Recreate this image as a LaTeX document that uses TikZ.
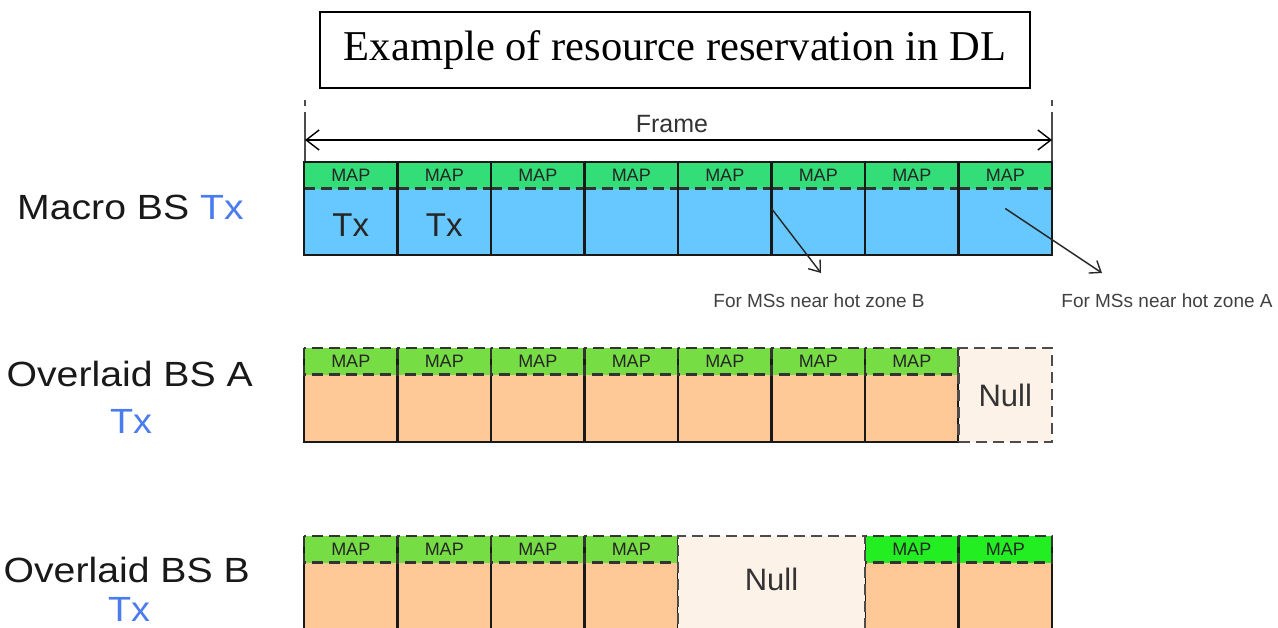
\documentclass[tikz,border=0pt]{standalone}
\usepackage{fontspec}
\setmainfont{Liberation Serif}
\newfontfamily\arialf{Liberation Sans}
\usetikzlibrary{arrows.meta}
\definecolor{macroblue}{HTML}{66C8FF}
\definecolor{mapgreen}{HTML}{33DD77}
\definecolor{mapgreenA}{HTML}{77DD44}
\definecolor{mapbright}{HTML}{22EE22}
\definecolor{peach}{HTML}{FFC896}
\definecolor{nullfill}{HTML}{FDF2E8}
\definecolor{txblue}{HTML}{4A7CF0}
\definecolor{darktext}{HTML}{333333}
\begin{document}
\begin{tikzpicture}[x=1pt,y=-1pt,
  cellfill/.style={minimum width=93.5pt, minimum height=#1, anchor=north west, inner sep=0pt, outer sep=0pt},
  band/.style={minimum width=93.5pt, minimum height=26.5pt, anchor=north west, inner sep=0pt, outer sep=0pt,
     font=\arialf\fontsize{18}{20}\selectfont, text=black!85},
  solidline/.style={draw=black!90, line width=2.1pt},
  dashline/.style={draw=black!80, line width=2.1pt, dash pattern=on 11pt off 6pt},
  nullbox/.style={draw=black!70, line width=2.1pt, dash pattern=on 11pt off 6pt, fill=nullfill, anchor=north west,
     inner sep=0pt, outer sep=0pt, font=\arialf\fontsize{31}{34}\selectfont, text=darktext},
  rowlabel/.style={font=\arialf\fontsize{35}{40}\selectfont, text=black!90, inner sep=0pt},
  celltext/.style={font=\arialf\fontsize{33}{36}\selectfont, text=black!85, inner sep=0pt},
  note/.style={font=\arialf\fontsize{19}{22}\selectfont, text=black!75, inner sep=0pt},
  annarrow/.style={draw=black!85, line width=1.4pt, -{Straight Barb[length=10pt,width=15pt]}},
]
\useasboundingbox (0,0) rectangle (1278,627);
\clip (0,0) rectangle (1278,627);

% Title
\node[draw=black, line width=1.8pt, minimum width=710pt, minimum height=76pt, inner sep=0pt,
      font=\fontsize{42.5}{46}\selectfont] (title) at (675,50) {\raisebox{-5pt}{Example of resource reservation in DL}};

% Frame arrow
\coordinate (fl) at (305,140);
\coordinate (fr) at (1052,140);
\coordinate (fltop) at (305,100);
\coordinate (flbot) at (305,162);
\coordinate (frtop) at (1052,100);
\coordinate (frbot) at (1052,162);
\draw[draw=black!70, line width=1.3pt, dash pattern=on 6pt off 6pt on 80pt] (fltop) -- (flbot);
\draw[draw=black!70, line width=1.3pt, dash pattern=on 6pt off 6pt on 80pt] (frtop) -- (frbot);
\draw[line width=1.4pt, {Straight Barb[length=13pt,width=20pt]}-{Straight Barb[length=13pt,width=20pt]}] (fl) -- (fr);
\node[font=\arialf\fontsize{25}{28}\selectfont, text=darktext, inner sep=0pt] (frame) at (672,124) {Frame};

% Macro BS row
\foreach \i in {0,...,7}{
  \node[cellfill=93pt, fill=macroblue] (m\i) at ({304+93.5*\i},162) {};
  \node[band, fill=mapgreen] (mb\i) at ({304+93.5*\i},162) {MAP};
  \draw[dashline] (mb\i.south west) -- (mb\i.south east);
  \draw[solidline] (m\i.north west) rectangle (m\i.south east);
}
\node[celltext] (tx0) at (350.75,225) {Tx};
\node[celltext] (tx1) at (444.25,225) {Tx};

% annotations
\node[note] (zoneB) at (819,301) {For MSs near hot zone B};
\node[note] (zoneA) at (1167,301) {For MSs near hot zone A};
\coordinate (tipB) at (821,273);
\coordinate (tipA) at (1102,273);
\draw[annarrow] (m5.west) -- (tipB);
\draw[annarrow] (m7.center) -- (tipA);

% Overlaid BS A row
\foreach \i in {0,...,6}{
  \node[cellfill=94pt, fill=peach] (a\i) at ({304+93.5*\i},348) {};
  \node[band, fill=mapgreenA] (ab\i) at ({304+93.5*\i},348) {MAP};
  \draw[solidline] (a\i.north west) -- (a\i.south west) -- (a\i.south east) -- (a\i.north east);
  \draw[dashline] (ab\i.north west) rectangle (ab\i.south east);
}
\node[nullbox, minimum width=93.5pt, minimum height=94pt] (anull) at (958.5,348) {Null};

% Overlaid BS B row
\foreach \i in {0,1,2,3}{
  \node[cellfill=110pt, fill=peach] (b\i) at ({304+93.5*\i},536) {};
  \node[band, fill=mapgreenA] (bb\i) at ({304+93.5*\i},536) {MAP};
  \draw[solidline] (b\i.north west) -- (b\i.south west) -- (b\i.south east) -- (b\i.north east);
  \draw[dashline] (bb\i.north west) rectangle (bb\i.south east);
}
\foreach \i in {6,7}{
  \node[cellfill=110pt, fill=peach] (b\i) at ({304+93.5*\i},536) {};
  \node[band, fill=mapbright] (bb\i) at ({304+93.5*\i},536) {MAP};
  \draw[solidline] (b\i.north west) -- (b\i.south west) -- (b\i.south east) -- (b\i.north east);
  \draw[dashline] (bb\i.north west) rectangle (bb\i.south east);
}
\node[nullbox, minimum width=187pt, minimum height=110pt] (bnull) at (678,536) {};
\node[font=\arialf\fontsize{31}{34}\selectfont, text=darktext, inner sep=0pt] (bnulltext) at (771.5,579) {Null};

% Row labels
\node[rowlabel, anchor=west] (lmacro) at (17,207.5) {\scalebox{1.12}[1]{Macro BS \textcolor{txblue}{Tx}}};
\node[rowlabel, anchor=east] (lA) at (253,374) {\scalebox{1.12}[1]{Overlaid BS A}};
\node[rowlabel, text=txblue] (lAtx) at (131,421) {\scalebox{1.08}[1]{Tx}};
\node[rowlabel, anchor=east] (lB) at (250,570) {\scalebox{1.12}[1]{Overlaid BS B}};
\node[rowlabel, text=txblue] (lBtx) at (129,609) {\scalebox{1.08}[1]{Tx}};
\end{tikzpicture}
\end{document}
